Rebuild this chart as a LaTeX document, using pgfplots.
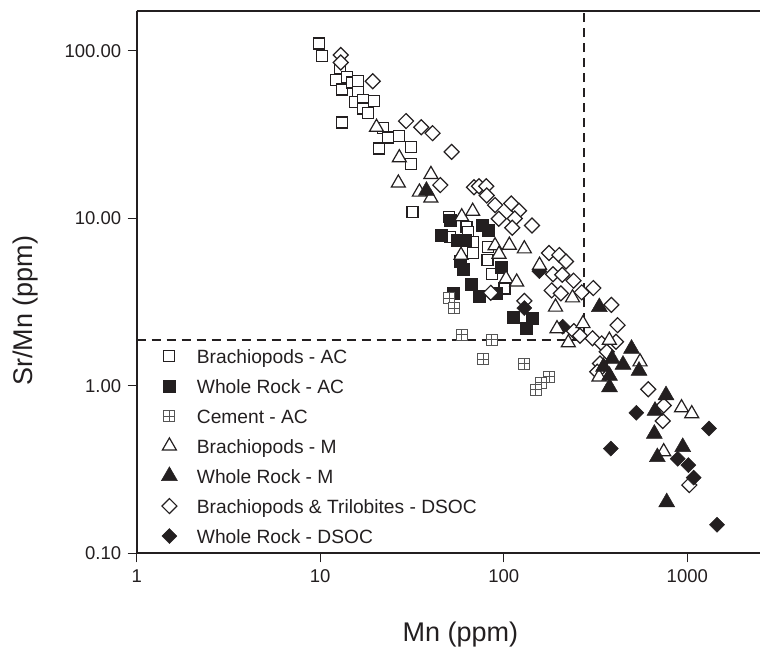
\documentclass[border=0pt]{standalone}
\usepackage{fontspec}
\setmainfont{Liberation Sans}
\usepackage{pgfplots}
\pgfplotsset{compat=1.18}
\definecolor{ink}{HTML}{231F20}
\definecolor{cem}{HTML}{555555}
\pgfdeclareplotmark{tri}{%
  \pgfpathmoveto{\pgfqpoint{0pt}{\pgfplotmarksize}}%
  \pgfpathlineto{\pgfqpoint{0.866\pgfplotmarksize}{-0.5\pgfplotmarksize}}%
  \pgfpathlineto{\pgfqpoint{-0.866\pgfplotmarksize}{-0.5\pgfplotmarksize}}%
  \pgfpathclose
  \pgfusepathqfillstroke}
\pgfdeclareplotmark{boxplus}{%
  \pgfpathrectangle{\pgfqpoint{-\pgfplotmarksize}{-\pgfplotmarksize}}{\pgfqpoint{2\pgfplotmarksize}{2\pgfplotmarksize}}%
  \pgfusepathqfillstroke
  \pgfpathmoveto{\pgfqpoint{-\pgfplotmarksize}{0pt}}\pgfpathlineto{\pgfqpoint{\pgfplotmarksize}{0pt}}%
  \pgfpathmoveto{\pgfqpoint{0pt}{-\pgfplotmarksize}}\pgfpathlineto{\pgfqpoint{0pt}{\pgfplotmarksize}}%
  \pgfusepathqstroke}
\pgfplotsset{
  bac/.style={only marks, mark=square*, mark size=5.5pt, mark options={draw=ink, fill=white, line width=1.2pt}},
  wrac/.style={only marks, mark=square*, mark size=6pt, mark options={draw=ink, fill=ink, line width=0.5pt}},
  cac/.style={only marks, mark=boxplus, mark size=5.5pt, mark options={draw=cem, fill=white, line width=1pt}},
  bm/.style={only marks, mark=tri, mark size=8.1pt, mark options={draw=ink, fill=white, line width=1.2pt}},
  wrm/.style={only marks, mark=tri, mark size=9.2pt, mark options={draw=ink, fill=ink, line width=0.5pt}},
  btd/.style={only marks, mark=square*, mark size=5.3pt, mark options={rotate=45, draw=ink, fill=white, line width=1.2pt}},
  wrd/.style={only marks, mark=square*, mark size=5.3pt, mark options={rotate=45, draw=ink, fill=ink, line width=0.5pt}},
}
\begin{document}
\begin{tikzpicture}
\begin{axis}[name=ax, at={(0,0)}, anchor=south west,
  xmode=log, ymode=log, scale only axis, width=623.3pt, height=542.6pt,
  xmin=1, xmax=2489, ymin=0.1, ymax=173.3,
  axis lines*=left,
  axis line style={ink, line width=1.8pt},
  tick align=outside, major tick length=9pt,
  tick style={ink, line width=1.3pt},
  xminorticks=false, yminorticks=false,
  xtick={1,10,100,1000}, xticklabels={1,10,100,1000},
  ytick={0.1,1,10,100}, yticklabels={0.10,1.00,10.00,100.00},
  tick label style={font=\fontsize{18.5}{22}\selectfont, text=ink},
  xticklabel style={yshift=-4pt},
  yticklabel style={xshift=-3pt},
  xlabel={Mn (ppm)}, ylabel={Sr/Mn (ppm)},
  label style={font=\fontsize{27}{32}\selectfont, text=ink, inner sep=0pt},
  xlabel style={at={(axis description cs:0.5195,-0.1261)}, anchor=north},
  ylabel style={at={(axis description cs:-0.158,0.4469)}, anchor=south},
  legend style={at={(axis description cs:0.0393,0.3916)}, anchor=north west,
    draw=none, fill=none, inner sep=0pt, column sep=17.5pt, row sep=0pt,
    font=\fontsize{19.2}{23}\selectfont, text=ink,
    nodes={inner sep=2pt, text height=20pt, text depth=6pt}},
  legend cell align=left,
  legend image code/.code={\draw[#1] plot coordinates {(8pt,0pt)}; \path[draw=none, fill=none] (0pt,0pt) -- (16pt,0pt);},
]
\addlegendimage{bac}
\addlegendimage{wrac}
\addlegendimage{cac}
\addlegendimage{bm}
\addlegendimage{wrm}
\addlegendimage{btd}
\addlegendimage{wrd}

\draw[ink, line width=1.8pt] (rel axis cs:0,1) -- (rel axis cs:1,1);

\addplot[ink, line width=1.8pt, dash pattern=on 9pt off 6pt, forget plot] coordinates {(1,1.874) (272.6,1.874) (272.6,173.3)};

% Brachiopods - AC
\addplot[bac, forget plot] coordinates {
(9.88,110.5) (10.19,92.9) (12.82,78.3) (12.19,66.8) (13.09,58.7) (14.04,69.9) (14.95,64.6) (16.12,65.9)
(16.12,56.9) (15.47,49.6) (17.17,50.8) (17.17,45.2) (18.14,42.6) (19.63,50.1) (13.09,37.3) (22.06,34.4)
(23.49,30.3) (26.87,30.9) (20.98,26.1) (31.11,26.5) (31.11,21.1) (31.83,10.93) (50.3,10.2) (62.7,8.89)
(50.9,7.75) (64.1,8.30) (68.2,7.24) (67.7,6.22) (82.4,6.76) (81.5,5.63) (86.0,4.65) (100.9,3.81)
};
% Whole Rock - AC
\addplot[wrac, forget plot] coordinates {
(50.9,9.75) (45.9,7.97) (56.0,7.41) (61.9,7.41) (76.1,9.14) (82.6,8.50) (57.8,5.50) (59.8,4.97)
(96.6,5.13) (66.9,4.01) (73.5,3.40) (91.3,3.59) (53.1,3.59) (112.7,2.55) (143.4,2.52) (132.2,2.19)
};
% Cement - AC
\addplot[cac, forget plot] coordinates {
(50.5,3.32) (53.6,2.91) (59.0,2.02) (86.0,1.88) (77.3,1.44) (128.9,1.35) (177.1,1.13) (159.6,1.04) (148.9,0.947)
};
% Brachiopods & Trilobites - DSOC
\addplot[btd, forget plot] coordinates {
(12.93,94.2) (12.93,85.1) (19.32,65.7) (29.34,38.0) (35.5,34.9) (40.9,32.2) (52.0,24.9) (45.1,15.78)
(68.8,15.30) (73.3,15.51) (80.3,15.51) (80.7,13.67) (89.6,11.98) (109.8,12.25) (121.1,11.08) (93.97,9.93)
(114.7,9.97) (111.2,8.77) (142.5,9.05) (176.4,6.20) (200.7,6.03) (218.3,5.52) (185.5,4.63) (208.2,4.60)
(239.9,4.24) (182.5,3.71) (204.6,3.56) (265.9,3.61) (307.5,3.83) (85.0,3.59) (129.4,3.21) (385.5,3.04)
(416.6,2.30) (240.8,2.12) (304.5,1.92) (260.3,1.99) (341.6,1.79) (408.8,1.83) (363.8,1.596) (334.5,1.359)
(323.3,1.212) (613.1,0.953) (743.6,0.763) (734.5,0.616) (1025.6,0.2555)
};
% Whole Rock - DSOC
\addplot[wrd, forget plot] coordinates {
(129.4,2.91) (156.2,4.83) (209.5,2.25) (527.6,0.690) (383.0,0.422) (1313,0.556) (886.7,0.3666)
(1012.7,0.3362) (1083,0.2831) (1452,0.148)
};
% Brachiopods - M
\addplot[bm, forget plot] coordinates {
(20.26,34.9) (26.97,22.96) (26.64,16.22) (40.1,18.25) (34.7,14.33) (40.05,13.20) (59.0,10.2) (67.7,11.0)
(58.5,6.01) (89.6,6.85) (107.2,6.90) (129.4,6.57) (94.2,6.10) (102.9,4.35) (117.6,4.16) (156.6,5.24)
(236.9,3.35) (191.4,2.95) (270.2,2.35) (195.0,2.19) (224.7,1.806) (375.9,1.87) (330.4,1.13) (552.5,1.39)
(929.9,0.739) (1057,0.681) (743.6,0.404)
};
% Whole Rock - M
\addplot[wrm, forget plot] coordinates {
(37.9,14.59) (331.6,2.95) (496.6,1.663) (388.8,1.449) (446.3,1.335) (545.7,1.229) (376.8,1.147)
(376.8,0.98) (349.4,1.298) (765.6,0.878) (666.8,0.709) (661.2,0.517) (686.5,0.375) (944.1,0.431) (772.3,0.2017)
};

\legend{Brachiopods - AC, Whole Rock - AC, Cement - AC, Brachiopods - M, Whole Rock - M, Brachiopods \& Trilobites - DSOC, Whole Rock - DSOC}
\end{axis}
\pgfresetboundingbox
\path[use as bounding box] ([shift={(-136.7pt,-95.7pt)}]ax.south west) rectangle ([shift={(0pt,10.7pt)}]ax.north east);
\end{tikzpicture}
\end{document}
